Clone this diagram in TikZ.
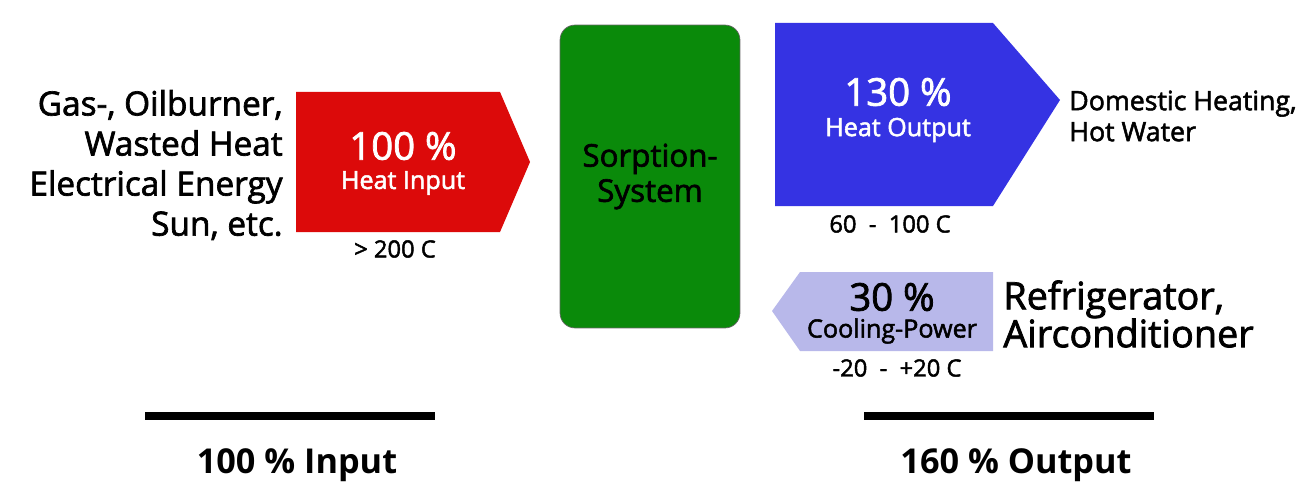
\documentclass[tikz,border=0pt]{standalone}
\usepackage{fontspec}
\setmainfont{Open Sans}
\newfontfamily\semifont{Open Sans}[FakeBold=2]
\definecolor{heatred}{RGB}{220,10,10}
\definecolor{sorpgreen}{RGB}{10,138,10}
\definecolor{heatblue}{RGB}{53,51,227}
\definecolor{coolblue}{RGB}{184,184,234}

\begin{document}
\begin{tikzpicture}[x=0.02cm,y=-0.02cm]
    \tikzstyle{every node}+=[inner sep=0pt]
    \tikzstyle{bigtext}=[font=\semifont\fontsize{19}{22.8}\selectfont]
    \tikzstyle{sidetext}=[font=\semifont\fontsize{15.2}{17.6}\selectfont, align=left, anchor=west]
    \tikzstyle{pcttext}=[font=\semifont\fontsize{21.8}{24}\selectfont]
    \tikzstyle{labtext}=[font=\semifont\fontsize{14.3}{16}\selectfont]
    \tikzstyle{temptext}=[font=\semifont\fontsize{13.5}{15}\selectfont]
    \tikzstyle{sumtext}=[font=\bfseries\fontsize{19.5}{24}\selectfont]
    \useasboundingbox (0,0) rectangle (1300,500);
    % input arrow
    \fill [heatred] (296,92) -- (500,92) -- (530,162) -- (500,232) -- (296,232) -- cycle;
    \node [bigtext, align=right, anchor=east] (source) at (283,165) {Gas-, Oilburner,\\Wasted Heat\\Electrical Energy\\Sun, etc.};
    \node [pcttext, white] (inpct) at (403,146) {100 \%};
    \node [labtext, white] (inlab) at (403,183) {Heat Input};
    \node [temptext] (intemp) at (395,249) {> 200 C};
    % sorption system
    \node [draw=black!60, fill=sorpgreen, rounded corners=0.3cm, minimum width=3.6cm, minimum height=6.06cm] (sorp) at (650,176.5) {};
    \node [font=\semifont\fontsize{17.8}{20}\selectfont, align=center] (sorplab) at (sorp) {Sorption-\\System};
    % heat output arrow
    \fill [heatblue] (775,23) -- (993,23) -- (1060,100) -- (993,206) -- (775,206) -- cycle;
    \node [pcttext, white] (outpct) at (898,92) {130 \%};
    \node [labtext, white] (outlab) at (898,130) {Heat Output};
    \node [temptext] (outtemp) at (890,224) {60 \ - \ 100 C};
    \node [sidetext] (heating) at (1069,116) {Domestic Heating,\\Hot Water};
    % cooling arrow
    \fill [coolblue] (993,272) -- (800,272) -- (772,311) -- (800,351) -- (993,351) -- cycle;
    \node [pcttext] (coolpct) at (892,297) {30 \%};
    \node [labtext] (coollab) at (892,331) {Cooling-Power};
    \node [temptext] (cooltemp) at (897,368) {-20 \ - \ +20 C};
    \node [font=\semifont\fontsize{21.5}{21.6}\selectfont, align=left, anchor=west] (cooler) at (1003,314) {Refrigerator,\\Airconditioner};
    % totals
    \draw [line width=0.16cm] (145,416) -- (435,416);
    \draw [line width=0.16cm] (864,416) -- (1154,416);
    \node [sumtext] (insum) at (297,465) {100 \% Input};
    \node [sumtext] (outsum) at (1016,465) {160 \% Output};
\end{tikzpicture}
\end{document}
